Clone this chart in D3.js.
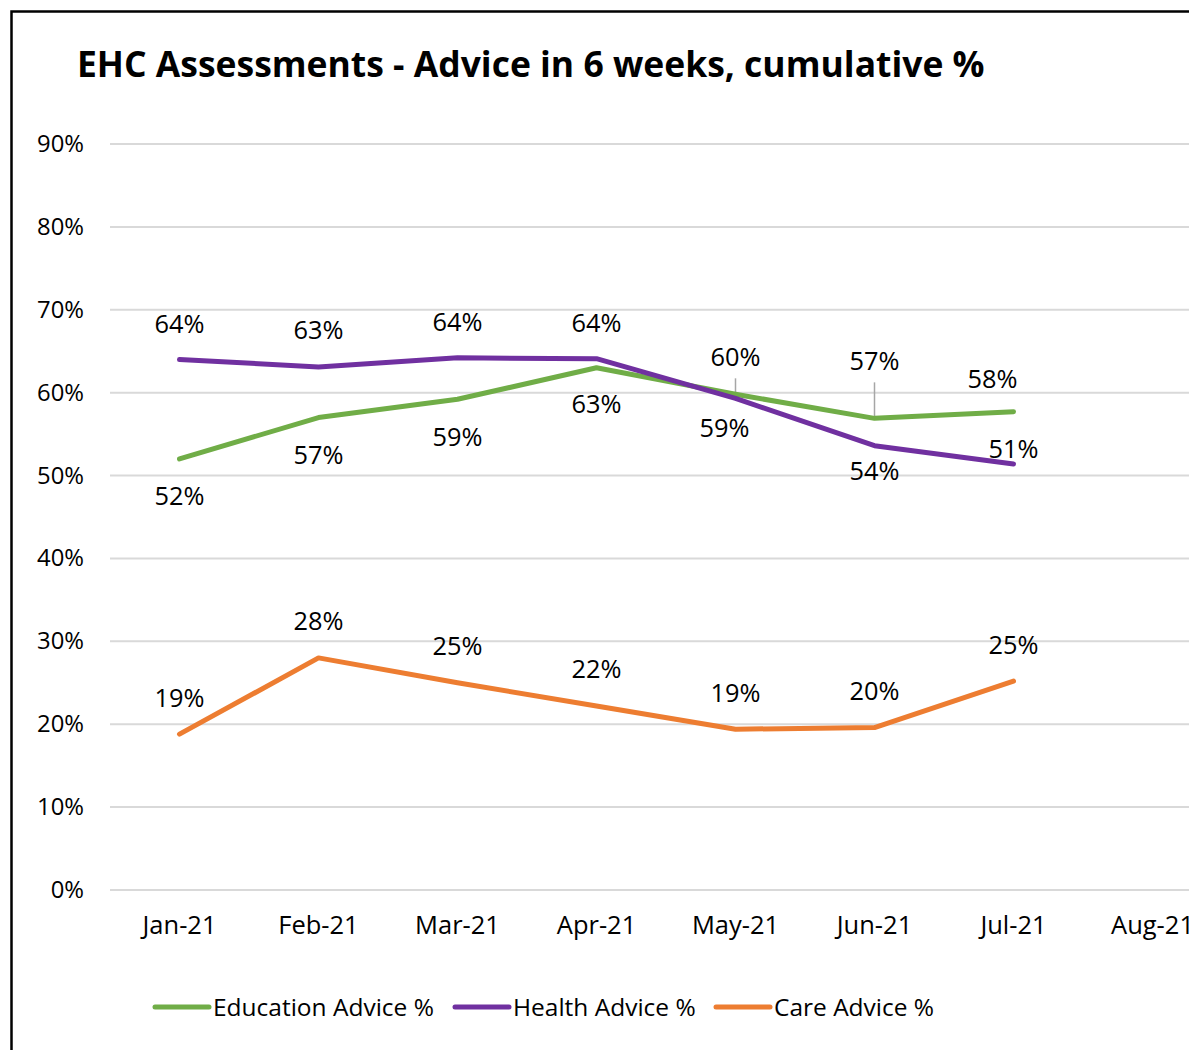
<!DOCTYPE html>
<html><head><meta charset="utf-8">
<script src="https://cdn.jsdelivr.net/npm/d3@7"></script>
<style>
html,body{margin:0;padding:0;background:#fff;overflow:hidden}
text{font-family:"Open Sans",sans-serif;fill:#000}
</style></head>
<body>
<svg id="c" width="1189" height="1050"></svg>
<script>
const months = ["Jan-21","Feb-21","Mar-21","Apr-21","May-21","Jun-21","Jul-21","Aug-21"];
const education = [52.0, 57.0, 59.2, 63.0, 59.8, 56.9, 57.7];
const health = [64.0, 63.1, 64.2, 64.1, 59.3, 53.6, 51.4];
const care = [18.8, 28.0, 25.0, 22.2, 19.4, 19.6, 25.2];
const yTicks = [0,10,20,30,40,50,60,70,80,90];
const seriesNames = ["Education Advice %","Health Advice %","Care Advice %"];
const colors = ["#70ad47","#7030a0","#ed7d31"];
// label offsets (layout only)
const eduOff = [[0,38],[0,38],[0,38],[0,37],[0,-37],[0,-57],[-21,-32]];
const hlthOff = [[0,-35],[0,-36],[0,-35],[0,-35],[-11,30],[0,26],[0,-14]];
const careOff = [[0,-36],[0,-36],[0,-36],[0,-36],[0,-36],[0,-36],[0,-36]];
const leaders = [[0,4,-16,-1],[0,5,-36,0]]; // series idx, month idx, from dy, to dy

const svg = d3.select("#c");
const x = d3.scaleBand().domain(months).range([110, 110+139*8]);
const y = d3.scaleLinear().domain([0,90]).range([890,144]);

// frame
svg.append("rect").attr("x",11.5).attr("y",11.5).attr("width",1300).attr("height",1200)
  .attr("fill","none").attr("stroke","#000").attr("stroke-width",2.5);

function fitAll(sel, ref, w){ const l=ref.node().getComputedTextLength(); const fs=parseFloat(ref.attr("font-size")); sel.attr("font-size", fs*w/l); }

const title = svg.append("text").attr("x",77).attr("y",77).attr("font-size",34).attr("font-weight","bold")
  .text("EHC Assessments - Advice in 6 weeks, cumulative %");
fitAll(title, title, 908);

// gridlines
svg.append("g").selectAll("line").data(yTicks).join("line")
  .attr("x1",110).attr("x2",1189).attr("y1",d=>y(d)).attr("y2",d=>y(d))
  .attr("stroke","#d9d9d9").attr("stroke-width",2);

const yl = svg.append("g").selectAll("text").data(yTicks).join("text")
  .attr("x",84).attr("y",d=>y(d)+8).attr("text-anchor","end").attr("font-size",24)
  .text(d=>d+"%");
fitAll(yl, yl.filter(d=>d===90), 47);

const xl = svg.append("g").selectAll("text").data(months).join("text")
  .attr("x",d=>x(d)+x.bandwidth()/2).attr("y",934).attr("text-anchor","middle").attr("font-size",24)
  .text(d=>d);
fitAll(xl, xl.filter(d=>d==="Jan-21"), 74);

const data = [education, health, care];
const offs = [eduOff, hlthOff, careOff];
const px = i => x(months[i]) + x.bandwidth()/2;

// leader lines
leaders.forEach(([s,i,a,b])=>{
  svg.append("line").attr("x1",px(i)).attr("x2",px(i))
    .attr("y1",y(data[s][i])+a).attr("y2",y(data[s][i])+b)
    .attr("stroke","#a6a6a6").attr("stroke-width",1.5);
});

const line = d3.line().x((d,i)=>px(i)).y(d=>y(d));
[2,0,1].forEach(k=>{
  svg.append("path").attr("d",line(data[k])).attr("fill","none")
    .attr("stroke",colors[k]).attr("stroke-width",5).attr("stroke-linecap","round").attr("stroke-linejoin","round");
});

const labG = svg.append("g");
data.forEach((arr,k)=>{
  labG.append("g").selectAll("text").data(arr).join("text")
    .attr("class","dl")
    .attr("x",(d,i)=>px(i)+offs[k][i][0]).attr("y",(d,i)=>y(d)+offs[k][i][1]+8.5)
    .attr("text-anchor","middle").attr("font-size",24)
    .text(d=>Math.round(d)+"%");
});
{ const all = labG.selectAll("text.dl");
  const ref = all.filter(function(){return this.textContent==="64%";});
  fitAll(all, d3.select(ref.node()), 50); }

// legend
const legX = [155, 455, 716];
const lg = svg.append("g");
seriesNames.forEach((n,k)=>{
  lg.append("line").attr("x1",legX[k]).attr("x2",legX[k]+54).attr("y1",1007).attr("y2",1007)
    .attr("stroke",colors[k]).attr("stroke-width",5).attr("stroke-linecap","round");
  lg.append("text").attr("class","leg").attr("x",legX[k]+58).attr("y",1016).attr("font-size",24).text(n);
});
{ const t=lg.selectAll("text.leg"); fitAll(t, d3.select(t.node()), 221); }
</script>
</body></html>
